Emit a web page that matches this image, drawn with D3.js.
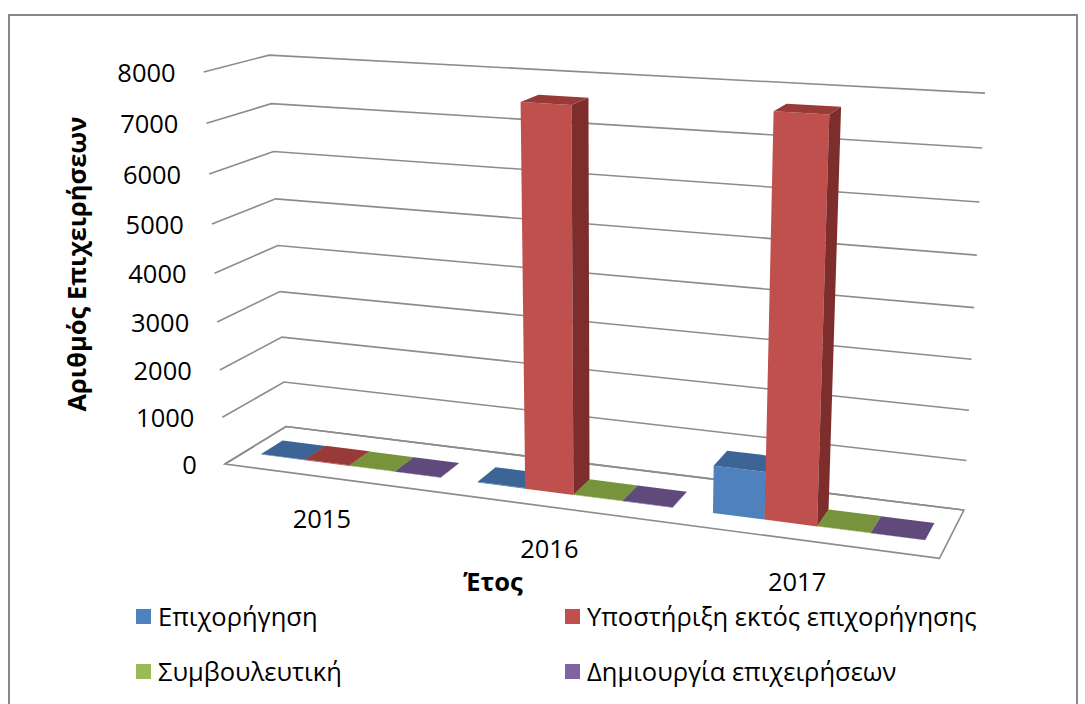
<!DOCTYPE html>
<html>
<head>
<meta charset="utf-8">
<script src="https://cdn.jsdelivr.net/npm/d3@7"></script>
<style>
  body { margin: 0; background: #fff; }
  text { font-family: "Open Sans", "Noto Sans", sans-serif; fill: #000; }
</style>
</head>
<body>
<script>
// data
var years = ["2015", "2016", "2017"];
var seriesNames = ["Επιχορήγηση", "Υποστήριξη εκτός επιχορήγησης", "Συμβουλευτική", "Δημιουργία επιχειρήσεων"];
var grant   = [12, 14, 950];
var support = [15, 7650, 7750];
var advice  = [10, 10, 10];
var startup = [8, 8, 8];
var yTicks = [0, 1000, 2000, 3000, 4000, 5000, 6000, 7000, 8000];

var frontColors = ["#4F81BD", "#C0504D", "#9BBB59", "#8064A2"];
var topColors   = ["#3C6596", "#983B38", "#77933C", "#604A7B"];
var sideColors  = ["#2F5180", "#7D2E2C", "#5E7630", "#4B3A62"];

var width = 1085, height = 704;

var svg = d3.select("body")
            .append("svg")
              .attr("width", width)
              .attr("height", height);

// chart border
svg.append("rect")
   .attr("x", 9).attr("y", 15)
   .attr("width", 1068).attr("height", 700)
   .attr("fill", "none")
   .attr("stroke", "#878787")
   .attr("stroke-width", 2);

// camera: fit a perspective projection to the corners of the plot box
// box coords: x 0..1 (categories), y 0..1 (value), z 0 (front) .. 1 (back)
var calib = [
  [0, 1, 1, 269, 55], [0, 0.875, 1, 272, 103], [0, 0.125, 1, 283, 382], [0, 0, 1, 287, 427],
  [0, 1, 0, 203, 73], [0, 0.875, 0, 207, 123], [0, 0.125, 0, 222, 418], [0, 0, 0, 225, 463],
  [1, 1, 1, 985, 93], [1, 0.875, 1, 982, 148], [1, 0.125, 1, 967, 461], [1, 0, 1, 963, 510],
  [1, 0, 0, 940, 558]
];

function fitProjection(pts) {
  var n = 11, M = [];
  for (var i = 0; i < n; i++) { M.push(new Array(n + 1).fill(0)); }
  function addRow(a, b) {
    for (var i = 0; i < n; i++) {
      for (var j = 0; j < n; j++) M[i][j] += a[i] * a[j];
      M[i][n] += a[i] * b;
    }
  }
  pts.forEach(function(p) {
    var X = p[0], Y = p[1], Z = p[2], u = p[3], v = p[4];
    addRow([X, Y, Z, 1, 0, 0, 0, 0, -u * X, -u * Y, -u * Z], u);
    addRow([0, 0, 0, 0, X, Y, Z, 1, -v * X, -v * Y, -v * Z], v);
  });
  for (var c = 0; c < n; c++) {
    var piv = c;
    for (var r = c + 1; r < n; r++) if (Math.abs(M[r][c]) > Math.abs(M[piv][c])) piv = r;
    var tmp = M[c]; M[c] = M[piv]; M[piv] = tmp;
    for (var r2 = 0; r2 < n; r2++) {
      if (r2 === c) continue;
      var f = M[r2][c] / M[c][c];
      for (var k = c; k <= n; k++) M[r2][k] -= f * M[c][k];
    }
  }
  return M.map(function(row, i) { return row[n] / row[i]; });
}

var P = fitProjection(calib);

function project(X, Y, Z) {
  var w = P[8] * X + P[9] * Y + P[10] * Z + 1;
  return [(P[0] * X + P[1] * Y + P[2] * Z + P[3]) / w,
          (P[4] * X + P[5] * Y + P[6] * Z + P[7]) / w];
}

// scales
var x = d3.scaleBand().domain(years).range([0, 1]).paddingInner(0.166).paddingOuter(0.083);
var xs = d3.scaleBand().domain(d3.range(seriesNames.length)).range([0, x.bandwidth()]);
var y = d3.scaleLinear().domain([0, 8000]).range([0, 1]);
var z0 = 0.30, z1 = 0.655;

var line = d3.line();

// gridlines on side and back wall
var grid = svg.append("g")
  .attr("fill", "none")
  .attr("stroke", "#8C8C8C")
  .attr("stroke-width", 1.6);

grid.selectAll("path.grid")
  .data(yTicks)
  .enter()
  .append("path")
    .attr("class", "grid")
    .attr("d", function(t) {
      return line([project(0, y(t), 0), project(0, y(t), 1), project(1, y(t), 1)]);
    });

// floor outline
grid.append("path")
  .attr("d", line([project(0, 0, 0), project(0, 0, 1), project(1, 0, 1), project(1, 0, 0)]) + "Z");

// tick labels
svg.selectAll("text.tick")
  .data(yTicks)
  .enter()
  .append("text")
    .attr("class", "tick")
    .attr("text-anchor", "end")
    .attr("font-size", 25.5)
    .attr("x", function(t) { return project(0, y(t), 0)[0] - 28; })
    .attr("y", function(t) { return project(0, y(t), 0)[1] + 10; })
    .text(function(t) { return t; });

// bars
var series = [grant, support, advice, startup];
var bars = [];
years.forEach(function(yr, c) {
  series.forEach(function(vals, s) {
    bars.push({ c: c, s: s, x0: x(yr) + xs(s), x1: x(yr) + xs(s) + xs.bandwidth(), h: y(vals[c]) });
  });
});

function area(pts) {
  var a = 0;
  for (var i = 0; i < pts.length; i++) {
    var p = pts[i], q = pts[(i + 1) % pts.length];
    a += p[0] * q[1] - q[0] * p[1];
  }
  return a;
}

function faces(b) {
  var x0 = b.x0, x1 = b.x1, h = b.h;
  return [
    { k: "front", pts: [[x0, 0, z0], [x1, 0, z0], [x1, h, z0], [x0, h, z0]] },
    { k: "back",  pts: [[x1, 0, z1], [x0, 0, z1], [x0, h, z1], [x1, h, z1]] },
    { k: "side",  pts: [[x1, 0, z0], [x1, 0, z1], [x1, h, z1], [x1, h, z0]] },
    { k: "side",  pts: [[x0, 0, z1], [x0, 0, z0], [x0, h, z0], [x0, h, z1]] },
    { k: "top",   pts: [[x0, h, z0], [x1, h, z0], [x1, h, z1], [x0, h, z1]] }
  ].map(function(f) {
    f.p2 = f.pts.map(function(p) { return project(p[0], p[1], p[2]); });
    return f;
  });
}

var barG = svg.append("g");
bars.forEach(function(b) {
  var fs = faces(b);
  var sign = Math.sign(area(fs[0].p2)) || 1;
  var vis = fs.filter(function(f) { return f.k === "front" || area(f.p2) * sign > 0.01; });
  barG.selectAll(null)
    .data(vis)
    .enter()
    .append("path")
      .attr("d", function(f) { return line(f.p2) + "Z"; })
      .attr("fill", function(f) {
        if (f.k === "top") return topColors[b.s];
        if (f.k === "side") return sideColors[b.s];
        return frontColors[b.s];
      });
});

// category labels
svg.selectAll("text.cat")
  .data(years)
  .enter()
  .append("text")
    .attr("class", "cat")
    .attr("text-anchor", "middle")
    .attr("font-size", 25.5)
    .attr("x", function(d) { return project(x(d) + x.bandwidth() / 2, 0, 0)[0] - 10; })
    .attr("y", function(d) { return project(x(d) + x.bandwidth() / 2, 0, 0)[1] + 50; })
    .text(function(d) { return d; });

// axis titles
svg.append("text")
  .attr("text-anchor", "middle")
  .attr("font-size", 25.5)
  .attr("font-weight", "bold")
  .attr("x", 493).attr("y", 591)
  .text("Έτος");

svg.append("text")
  .attr("text-anchor", "middle")
  .attr("font-size", 25.5)
  .attr("font-weight", "bold")
  .attr("transform", "translate(86,264) rotate(-90)")
  .text("Αριθμός Επιχειρήσεων");

// legend
var legPos = [[136, 609], [565, 609], [136, 664], [565, 664]];
var leg = svg.selectAll("g.leg")
  .data(seriesNames)
  .enter()
  .append("g")
    .attr("class", "leg")
    .attr("transform", function(d, i) { return "translate(" + legPos[i][0] + "," + legPos[i][1] + ")"; });

leg.append("rect")
  .attr("width", 15).attr("height", 15)
  .attr("fill", function(d, i) { return frontColors[i]; });

leg.append("text")
  .attr("x", 22).attr("y", 17)
  .attr("font-size", 25.5)
  .text(function(d) { return d; });
</script>
</body>
</html>
